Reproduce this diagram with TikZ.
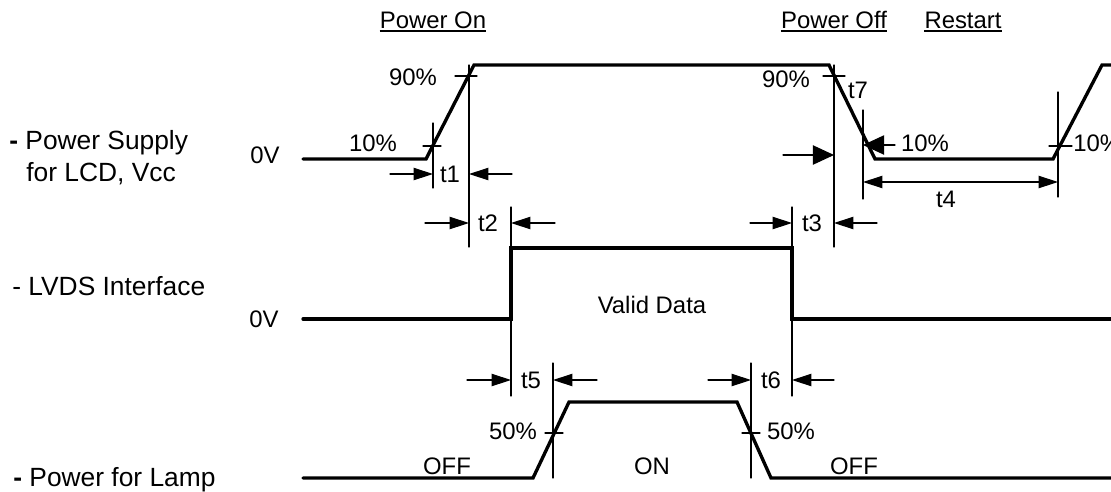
\documentclass[tikz,border=0pt]{standalone}
\usepackage{fontspec}
\setmainfont{Liberation Sans}
\usepackage{tkz-euclide}
\usetikzlibrary{arrows.meta}

\begin{document}
\begin{tikzpicture}[x=0.02cm,y=-0.02cm,
        wave/.style={line width=1.9pt,line join=miter},
        guide/.style={line width=0.6pt},
        tickmark/.style={line width=0.7pt},
        tarrow/.style={line width=0.6pt,-{Triangle[length=11pt,width=7pt]}},
        bigarrow/.style={line width=0.6pt,-{Triangle[length=12pt,width=11pt]}},
        dimarrow/.style={line width=0.6pt,{Triangle[length=11pt,width=7pt]}-{Triangle[length=11pt,width=7pt]}},
        headline/.style={line width=1.1pt},
        lbl/.style={font=\fontsize{13.6}{16}\selectfont,inner sep=0pt,anchor=base},
        sig/.style={font=\fontsize{15}{18}\selectfont,inner sep=0pt,anchor=base west}]

                \useasboundingbox (0,0) rectangle (1111,491);

                % Vcc
                \tkzDefPoint(303,159){VccA}
                \tkzDefPoint(426,159){VccB}
                \tkzDefPoint(474,65){VccC}
                \tkzDefPoint(829,65){VccD}
                \tkzDefPoint(875,159){VccE}
                \tkzDefPoint(1053,159){VccF}
                \tkzDefPoint(1102,65){VccG}
                \tkzDefPoint(1112,65){VccH}
                \tkzDrawPolySeg[wave](VccA,VccB,VccC,VccD,VccE,VccF,VccG,VccH)

                % LVDS
                \tkzDefPoint(303,319){LvdsA}
                \tkzDefPoint(511,319){LvdsB}
                \tkzDefPoint(511,248){LvdsC}
                \tkzDefPoint(792,248){LvdsD}
                \tkzDefPoint(792,319){LvdsE}
                \tkzDefPoint(1112,319){LvdsF}
                \tkzDrawPolySeg[wave](LvdsA,LvdsB,LvdsC,LvdsD,LvdsE,LvdsF)

                % lamp
                \tkzDefPoint(303,478){LampA}
                \tkzDefPoint(533,478){LampB}
                \tkzDefPoint(569,402){LampC}
                \tkzDefPoint(737,402){LampD}
                \tkzDefPoint(771,478){LampE}
                \tkzDefPoint(1112,478){LampF}
                \tkzDrawPolySeg[wave](LampA,LampB,LampC,LampD,LampE,LampF)

                % guide lines
                \tkzDefPoint(433,123){GonA}  \tkzDefPoint(433,188){GonB}
                \tkzDefPoint(469,65){GonC}   \tkzDefPoint(469,247){GonD}
                \tkzDefPoint(511,207){GonE}  \tkzDefPoint(511,396){GonF}
                \tkzDefPoint(834,65){GoffA}  \tkzDefPoint(834,247){GoffB}
                \tkzDefPoint(863,110){GoffC} \tkzDefPoint(863,199){GoffD}
                \tkzDefPoint(792,207){GoffE} \tkzDefPoint(792,396){GoffF}
                \tkzDefPoint(1058,92){GreA}  \tkzDefPoint(1058,197){GreB}
                \tkzDefPoint(553,363){GlpA}  \tkzDefPoint(553,478){GlpB}
                \tkzDefPoint(751,363){GlpC}  \tkzDefPoint(751,478){GlpD}
                \tkzDrawSegments[guide](GonA,GonB GonC,GonD GonE,GonF GoffA,GoffB GoffC,GoffD GoffE,GoffF GreA,GreB GlpA,GlpB GlpC,GlpD)

                % level marks
                \tkzDefPoint(423,146){MkA} \tkzDefPoint(441,146){MkB}
                \tkzDefPoint(455,76){MkC}  \tkzDefPoint(477,76){MkD}
                \tkzDefPoint(823,76){MkE}  \tkzDefPoint(845,76){MkF}
                \tkzDefPoint(1049,146){MkG} \tkzDefPoint(1072,146){MkH}
                \tkzDefPoint(545,433){MkI} \tkzDefPoint(563,433){MkJ}
                \tkzDefPoint(742,433){MkK} \tkzDefPoint(760,433){MkL}
                \tkzDrawSegments[tickmark](MkA,MkB MkC,MkD MkE,MkF MkG,MkH MkI,MkJ MkK,MkL)

                % timing arrows
                \tkzDefPoint(390,174){ToneA} \tkzDefPoint(433,174){ToneB}
                \tkzDefPoint(512,174){ToneC} \tkzDefPoint(469,174){ToneD}
                \tkzDefPoint(425,223){TtwoA} \tkzDefPoint(469,223){TtwoB}
                \tkzDefPoint(555,223){TtwoC} \tkzDefPoint(511,223){TtwoD}
                \tkzDefPoint(750,223){TthrA} \tkzDefPoint(792,223){TthrB}
                \tkzDefPoint(877,223){TthrC} \tkzDefPoint(834,223){TthrD}
                \tkzDefPoint(467,380){TfivA} \tkzDefPoint(511,380){TfivB}
                \tkzDefPoint(597,380){TfivC} \tkzDefPoint(553,380){TfivD}
                \tkzDefPoint(708,380){TsixA} \tkzDefPoint(751,380){TsixB}
                \tkzDefPoint(834,380){TsixC} \tkzDefPoint(792,380){TsixD}
                \tkzDrawSegments[tarrow](ToneA,ToneB ToneC,ToneD TtwoA,TtwoB TtwoC,TtwoD TthrA,TthrB TthrC,TthrD TfivA,TfivB TfivC,TfivD TsixA,TsixB TsixC,TsixD)

                \tkzDefPoint(783,155){TsevA} \tkzDefPoint(834,155){TsevB}
                \tkzDefPoint(895,145){TsevC} \tkzDefPoint(863,145){TsevD}
                \tkzDrawSegments[bigarrow](TsevA,TsevB TsevC,TsevD)

                \tkzDefPoint(863,182){TfouA} \tkzDefPoint(1058,182){TfouB}
                \tkzDrawSegment[dimarrow](TfouA,TfouB)

                % headings
                \node[lbl] (on) at (433,28) {Power On};
                \node[lbl] (off) at (834,28) {Power Off};
                \node[lbl] (restart) at (963,28) {Restart};
                \foreach \h in {on,off,restart}
                    \draw[headline] ([yshift=-1.8pt]\h.base west) -- ([yshift=-1.8pt]\h.base east);

                % signal names
                \node[sig] (vccname) at (9,149) {\textbf{-} Power Supply};
                \node[sig] (vccname2) at (26,181) {for LCD, Vcc};
                \node[sig] (lvdsname) at (12,295) {- LVDS Interface};
                \node[sig] (lampname) at (13,486) {\textbf{-} Power for Lamp};
                \node[lbl] (vcczero) at (265,163) {0V};
                \node[lbl] (lvdszero) at (264,327) {0V};

                % levels
                \node[lbl] (onten) at (373,151) {10\%};
                \node[lbl] (onninety) at (413,85) {90\%};
                \node[lbl] (offninety) at (786,87) {90\%};
                \node[lbl] (offten) at (925,151) {10\%};
                \node[lbl,anchor=base west] (reten) at (1073,151) {10\%};
                \node[lbl] (lpfifty) at (513,439) {50\%};
                \node[lbl] (lpfiftyb) at (791,439) {50\%};
                \node[lbl] (valid) at (652,313) {Valid Data};
                \node[lbl] (lpoff) at (447,474) {OFF};
                \node[lbl] (lpon) at (652,474) {ON};
                \node[lbl] (lpoffb) at (854,474) {OFF};

                % times
                \node[lbl] (tone) at (450,182) {t1};
                \node[lbl] (ttwo) at (488,231) {t2};
                \node[lbl] (tthree) at (812,231) {t3};
                \node[lbl] (tfour) at (946,207) {t4};
                \node[lbl] (tfive) at (531,388) {t5};
                \node[lbl] (tsix) at (771,388) {t6};
                \node[lbl] (tseven) at (858,98) {t7};
            \end{tikzpicture}
\end{document}
